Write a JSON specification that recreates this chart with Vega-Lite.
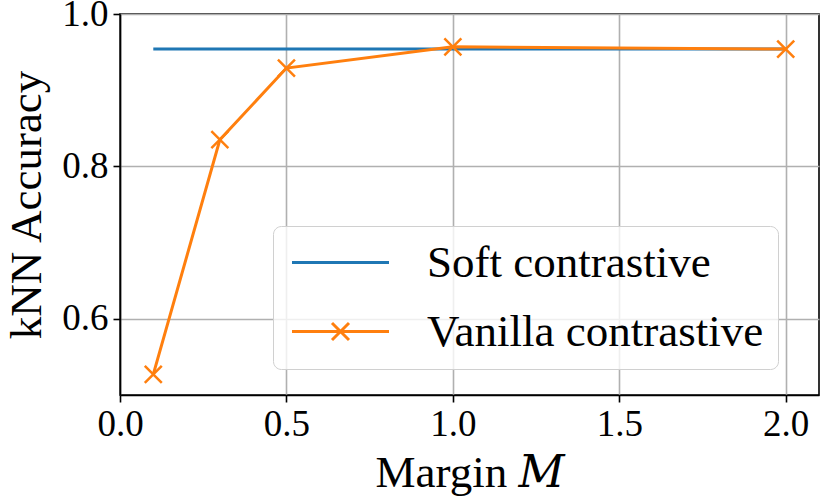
{
  "$schema": "https://vega.github.io/schema/vega-lite/v6.json",
  "autosize": "none",
  "width": 699,
  "height": 381,
  "padding": {"left": 120, "top": 14, "right": 3, "bottom": 107},
  "background": "white",
  "config": {
    "font": "Liberation Serif",
    "view": {"stroke": "black", "strokeWidth": 1.6},
    "axis": {
      "labelFont": "Liberation Serif",
      "titleFont": "Liberation Serif, DejaVu Serif",
      "labelFontSize": 37,
      "titleFontSize": 45,
      "labelColor": "black",
      "titleColor": "black",
      "titleFontWeight": "normal",
      "domainColor": "black",
      "domainWidth": 1.6,
      "tickColor": "black",
      "tickWidth": 1.6,
      "tickSize": 7,
      "gridColor": "#b0b0b0",
      "gridWidth": 1.6
    },
    "legend": {
      "labelFont": "Liberation Serif",
      "labelFontSize": 45,
      "labelColor": "black",
      "labelLimit": 0
    }
  },
  "data": {
    "values": [
      {"series": "Soft contrastive", "margin": 0.1, "accuracy": 0.954},
      {"series": "Soft contrastive", "margin": 2.0, "accuracy": 0.954},
      {"series": "Vanilla contrastive", "margin": 0.1, "accuracy": 0.527},
      {"series": "Vanilla contrastive", "margin": 0.3, "accuracy": 0.835},
      {"series": "Vanilla contrastive", "margin": 0.5, "accuracy": 0.929},
      {"series": "Vanilla contrastive", "margin": 1.0, "accuracy": 0.957},
      {"series": "Vanilla contrastive", "margin": 2.0, "accuracy": 0.954}
    ]
  },
  "encoding": {
    "x": {
      "field": "margin",
      "type": "quantitative",
      "scale": {"domain": [0, 2.1], "nice": false, "zero": false},
      "axis": {
        "values": [0, 0.5, 1.0, 1.5, 2.0],
        "format": ".1f",
        "labelPadding": 4,
        "labelFlush": false,
        "titlePadding": 8,
        "title": "Margin 𝑀"
      }
    },
    "y": {
      "field": "accuracy",
      "type": "quantitative",
      "scale": {"domain": [0.5, 1.0], "nice": false, "zero": false},
      "axis": {
        "values": [0.6, 0.8, 1.0],
        "format": ".1f",
        "labelPadding": 5,
        "labelFlush": false,
        "titlePadding": 12,
        "title": "kNN Accuracy"
      }
    }
  },
  "layer": [
    {
      "mark": {"type": "line", "strokeWidth": 3},
      "encoding": {
        "color": {
          "field": "series",
          "type": "nominal",
          "scale": {
            "domain": ["Soft contrastive", "Vanilla contrastive"],
            "range": ["#1f77b4", "#ff7f0e"]
          },
          "legend": {
            "title": null,
            "orient": "none",
            "legendX": 153,
            "legendY": 212,
            "padding": 14,
            "fillColor": "rgba(255,255,255,0.8)",
            "strokeColor": "#d0d0d0",
            "cornerRadius": 8,
            "symbolSize": 1600,
            "symbolStrokeWidth": 3,
            "labelOffset": 95,
            "labelLimit": 0,
            "rowPadding": 23,
            "encode": {
              "symbols": {
                "update": {
                  "shape": {
                    "signal": "datum.value === 'Vanilla contrastive' ? 'M-0.875,0L3.975,0M1.125,-0.425L1.975,0.425M1.125,0.425L1.975,-0.425' : 'M-0.875,0L3.975,0'"
                  },
                  "fill": {"value": "transparent"},
                  "strokeWidth": {"value": 3}
                }
              }
            }
          }
        }
      }
    },
    {
      "transform": [{"filter": "datum.series === 'Vanilla contrastive'"}],
      "mark": {
        "type": "point",
        "shape": "M-1,-1L1,1M-1,1L1,-1",
        "size": 289,
        "filled": false,
        "strokeWidth": 2.5,
        "color": "#ff7f0e",
        "opacity": 1
      }
    }
  ]
}
